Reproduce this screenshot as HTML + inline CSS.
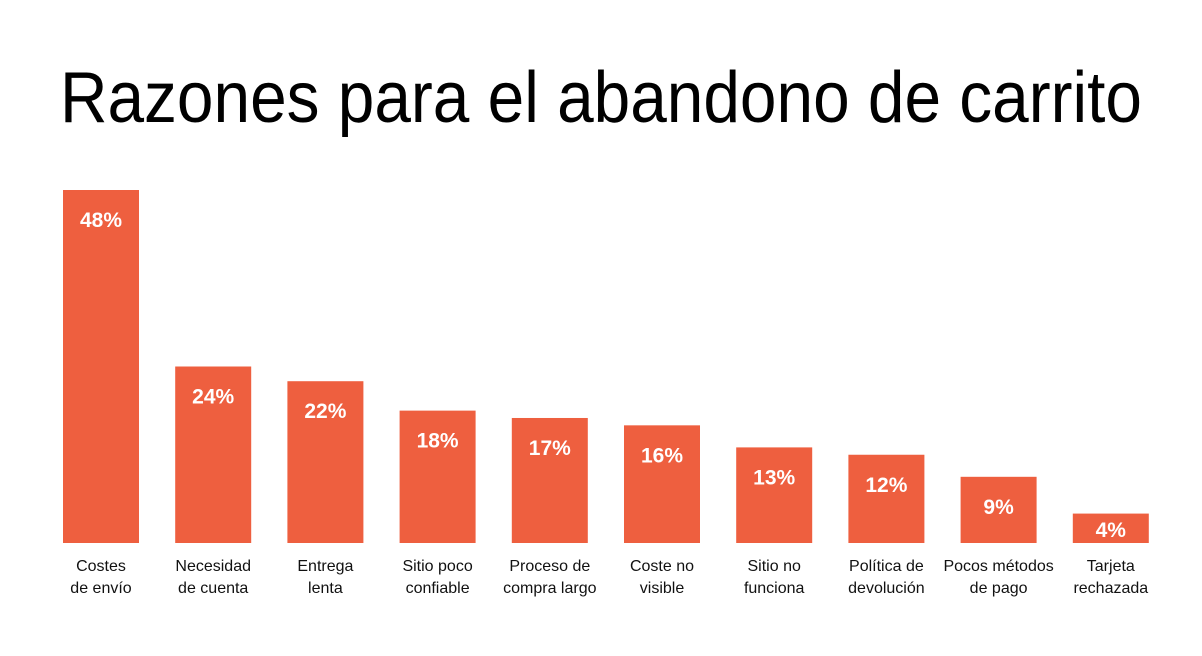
<!DOCTYPE html>
<html><head><meta charset="utf-8"><style>
html,body{margin:0;padding:0;background:#fff;}
svg{display:block;font-family:"Liberation Sans",Arial,sans-serif;}
</style></head><body>
<svg id="chart" width="1202" height="656" viewBox="0 0 1202 656">
<text x="601" y="122" text-anchor="middle" font-size="72" fill="#000" textLength="1082" lengthAdjust="spacingAndGlyphs">Razones para el abandono de carrito</text>
<g id="bars"></g>
</svg>
<script>
const categories = [["Costes","de envío"],["Necesidad","de cuenta"],["Entrega","lenta"],["Sitio poco","confiable"],["Proceso de","compra largo"],["Coste no","visible"],["Sitio no","funciona"],["Política de","devolución"],["Pocos métodos","de pago"],["Tarjeta","rechazada"]];
const values = [48,24,22,18,17,16,13,12,9,4];
const valueLabels = ["48%","24%","22%","18%","17%","16%","13%","12%","9%","4%"];

const NS="http://www.w3.org/2000/svg";
const g=document.getElementById('bars');
const baseY=543, pxPer=353/48, x0=63, step=112.2, bw=76;
function xScale(i){return x0+i*step;}
function yScale(v){return baseY-v*pxPer;}
values.forEach((v,i)=>{
  const r=document.createElementNS(NS,'rect');
  
  
  r.setAttribute('x',xScale(i));r.setAttribute('y',yScale(v));
  r.setAttribute('width',bw);r.setAttribute('height',baseY-yScale(v));
  r.setAttribute('fill','#EE5F3F');
  g.appendChild(r);
  const t=document.createElementNS(NS,'text');
  
  
  t.setAttribute('x',xScale(i)+bw/2);t.setAttribute('y',Math.min(yScale(v)+37,baseY-6));
  t.setAttribute('text-anchor','middle');t.setAttribute('font-size','21');
  t.setAttribute('font-weight','bold');t.setAttribute('fill','#fff');
  t.textContent=valueLabels[i];
  g.appendChild(t);
  categories[i].forEach((line,j)=>{
    const c=document.createElementNS(NS,'text');
    
    
    c.setAttribute('x',xScale(i)+bw/2);c.setAttribute('y',571+j*22);
    c.setAttribute('text-anchor','middle');c.setAttribute('font-size','16');
    c.setAttribute('fill','#111');
    c.textContent=line;
    g.appendChild(c);
  });
});
</script>
</body></html>
